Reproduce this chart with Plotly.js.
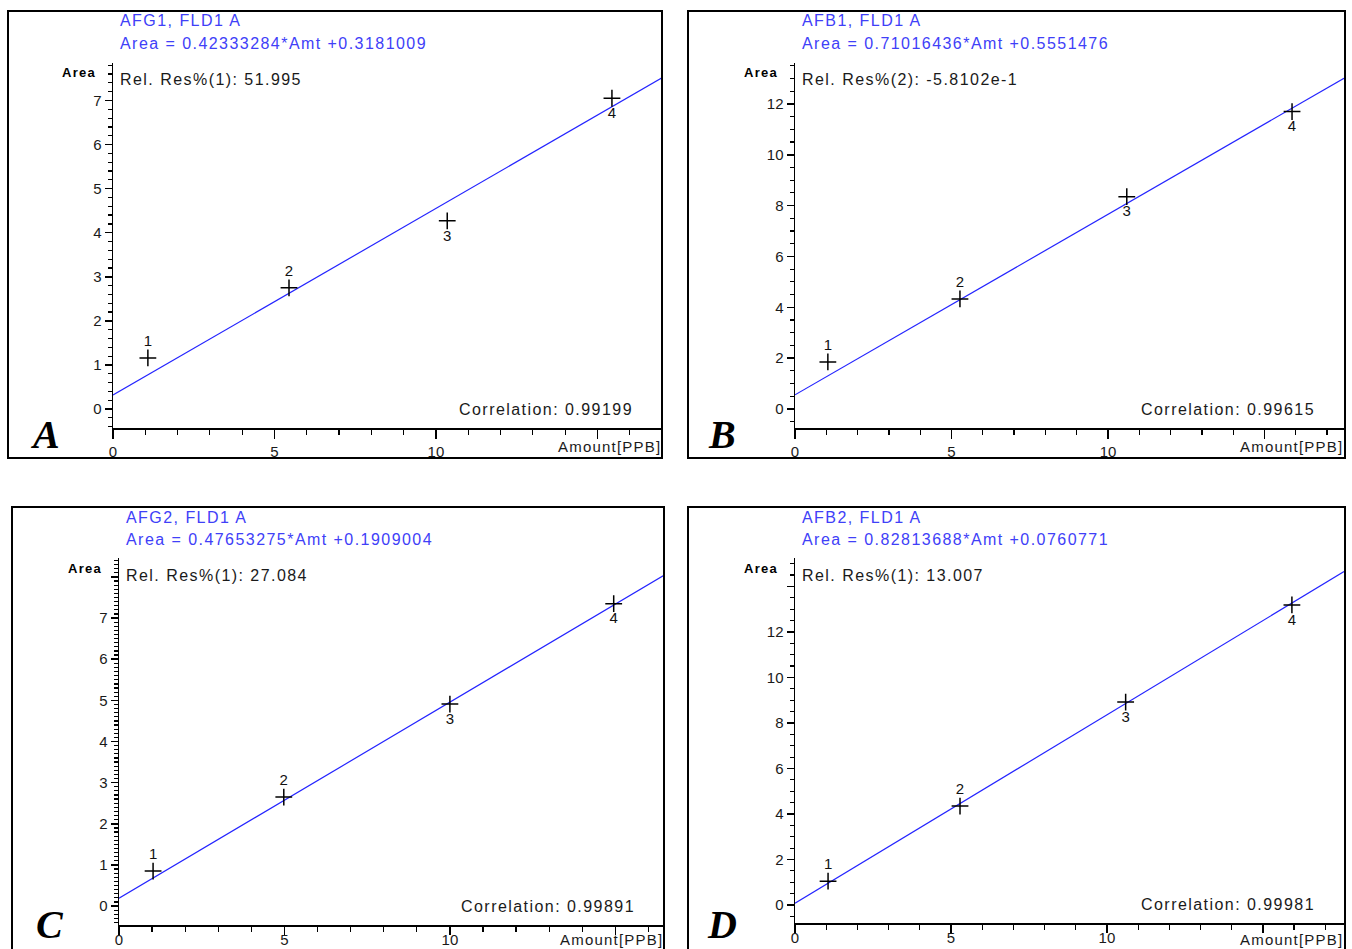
<!DOCTYPE html>
<html>
<head>
<meta charset="utf-8">
<script src="https://cdn.plot.ly/plotly-3.0.1.min.js"></script>
<style>html,body{margin:0;padding:0;background:#fff;}#chart{width:1352px;height:949px;}</style>
</head>
<body>
<div id="chart"></div>
<script>
// ---------------- data ----------------
const panelLetters = ['A', 'B', 'C', 'D'];
const compounds = ['AFG1, FLD1 A', 'AFB1, FLD1 A', 'AFG2, FLD1 A', 'AFB2, FLD1 A'];
const equations = [
  'Area = 0.42333284*Amt +0.3181009',
  'Area = 0.71016436*Amt +0.5551476',
  'Area = 0.47653275*Amt +0.1909004',
  'Area = 0.82813688*Amt +0.0760771'
];
const relRes = ['Rel. Res%(1): 51.995', 'Rel. Res%(2): -5.8102e-1', 'Rel. Res%(1): 27.084', 'Rel. Res%(1): 13.007'];
const correlations = ['Correlation: 0.99199', 'Correlation: 0.99615', 'Correlation: 0.99891', 'Correlation: 0.99981'];
const slopes = [0.42333284, 0.71016436, 0.47653275, 0.82813688];
const intercepts = [0.3181009, 0.5551476, 0.1909004, 0.0760771];
const amtA = [1.08, 5.45, 10.35, 15.45];
const areaA = [1.16, 2.75, 4.27, 7.05];
const amtB = [1.05, 5.27, 10.6, 15.88];
const areaB = [1.85, 4.33, 8.35, 11.7];
const amtC = [1.03, 4.98, 10.0, 14.95];
const areaC = [0.85, 2.65, 4.91, 7.35];
const amtD = [1.06, 5.29, 10.6, 15.93];
const areaD = [1.05, 4.35, 8.92, 13.19];
const pointLabels = ['1', '2', '3', '4'];
const xTickVals = [0, 5, 10, 15];
const xTickText = ['0', '5', '10', ''];
const yTickValsA = [0, 1, 2, 3, 4, 5, 6, 7];
const yTickValsB = [0, 2, 4, 6, 8, 10, 12];
const yTickValsC = [0, 1, 2, 3, 4, 5, 6, 7, 8];
const yTickTextC = ['0', '1', '2', '3', '4', '5', '6', '7', ''];
const yTickValsD = [0, 2, 4, 6, 8, 10, 12, 14];
const yTickTextD = ['0', '2', '4', '6', '8', '10', '12', ''];
const xTitle = 'Amount[PPB]';
const yTitle = 'Area';

// ---------------- layout geometry (pixels) ----------------
const W = 1352, H = 949;
const geo = [
  {frame: [8, 11, 662, 458],    plot: [113, 63, 662, 428],  xmax: 17.0,  ymin: -0.43, ymax: 7.85,  ymdt: 0.2, tv: yTickValsA, tt: yTickValsA.map(String), letter: [45, 435], xlab: 18},
  {frame: [688, 11, 1345, 458], plot: [795, 63, 1344, 428], xmax: 17.54, ymin: -0.75, ymax: 13.61, ymdt: 0.5, tv: yTickValsB, tt: yTickValsB.map(String), letter: [722, 435], xlab: 18},
  {frame: [12, 507, 664, 953],  plot: [119, 558, 664, 925], xmax: 16.47, ymin: -0.46, ymax: 8.46,  ymdt: 0.1, tv: yTickValsC, tt: yTickTextC, letter: [50, 924], xlab: 14},
  {frame: [688, 507, 1345, 953], plot: [795, 558, 1344, 923], xmax: 17.6, ymin: -0.79, ymax: 15.25, ymdt: 0.5, tv: yTickValsD, tt: yTickTextD, letter: [722, 924], xlab: 16}
];
const amts = [amtA, amtB, amtC, amtD];
const areas = [areaA, areaB, areaC, areaD];

const px = x => x / W;
const py = y => 1 - y / H;
const sp = (t, ls) => '<span style="letter-spacing:' + ls + 'px">' + t + '</span>';

const BLUE_LINE = '#2424ff';
const BLUE_TEXT = '#4040f8';
const FONT = 'Liberation Sans, Arial, sans-serif';
const TXT = '#1a1a1a';

const traces = [];
const layout = {
  width: W, height: H,
  margin: {l: 0, r: 0, t: 0, b: 0},
  paper_bgcolor: '#ffffff',
  plot_bgcolor: 'rgba(0,0,0,0)',
  showlegend: false,
  shapes: [],
  annotations: []
};

geo.forEach((g, i) => {
  const n = i === 0 ? '' : String(i + 1);
  const xa = 'x' + n, ya = 'y' + n;
  const [pl, pt, pr, pb] = g.plot;
  const bottomRow = i >= 2;

  // regression line from the equation
  const lx = [0, g.xmax];
  traces.push({
    type: 'scatter', mode: 'lines', x: lx, y: lx.map(v => slopes[i] * v + intercepts[i]),
    xaxis: xa, yaxis: ya, line: {color: BLUE_LINE, width: 1.2}, hoverinfo: 'skip'
  });
  // calibration points
  traces.push({
    type: 'scatter', mode: 'markers+text', x: amts[i], y: areas[i],
    xaxis: xa, yaxis: ya,
    marker: {symbol: 'cross-thin', size: 12, color: '#000', line: {color: '#000', width: 1.5}},
    text: pointLabels,
    textposition: ['top center', 'top center', 'bottom center', 'bottom center'],
    textfont: {family: FONT, size: 15, color: '#111'},
    cliponaxis: false
  });

  const xKey = 'xaxis' + n, yKey = 'yaxis' + n;
  layout[xKey] = {
    domain: [px(pl), px(pr)], anchor: ya, range: [0, g.xmax],
    showgrid: false, zeroline: false, showline: true, linecolor: '#000', linewidth: 1.5,
    tickmode: 'array', tickvals: xTickVals, ticktext: xTickText,
    ticks: 'outside', ticklen: bottomRow ? 8 : 9, tickwidth: 1.5, tickcolor: '#000',
    tickfont: {family: FONT, size: 15, color: TXT},
    ticklabelstandoff: bottomRow ? -8 : 0,
    minor: {tickmode: 'linear', tick0: 0, dtick: 1, ticks: 'outside', ticklen: 5, tickwidth: 1.2, tickcolor: '#000', showgrid: false},
    fixedrange: true
  };
  layout[yKey] = {
    domain: [py(pb), py(pt)], anchor: xa, range: [g.ymin, g.ymax],
    showgrid: false, zeroline: false, showline: true, linecolor: '#000', linewidth: 1.5,
    tickmode: 'array', tickvals: g.tv, ticktext: g.tt,
    ticks: 'outside', ticklen: 7, tickwidth: 1.5, tickcolor: '#000',
    tickfont: {family: FONT, size: 15, color: TXT},
    minor: {tickmode: 'linear', tick0: 0, dtick: g.ymdt, ticks: 'outside', ticklen: 4, tickwidth: 1.2, tickcolor: '#000', showgrid: false},
    fixedrange: true
  };

  // panel frame
  const [fl, ft, fr, fb] = g.frame;
  layout.shapes.push({type: 'rect', xref: 'paper', yref: 'paper', x0: px(fl), x1: px(fr), y0: py(fb), y1: py(ft),
    line: {color: '#000', width: 2}, fillcolor: 'rgba(0,0,0,0)'});

  const ann = (text, x, y, xanchor, font) => layout.annotations.push({
    xref: 'paper', yref: 'paper', x: px(x), y: py(y), xanchor: xanchor, yanchor: 'middle',
    text: text, showarrow: false, font: font, align: xanchor === 'right' ? 'right' : 'left'
  });

  ann(sp(compounds[i], 1.45), pl + 5, ft + 10, 'left', {family: FONT, size: 16, color: BLUE_TEXT});
  ann(sp(equations[i], 1.45), pl + 5, ft + 32, 'left', {family: FONT, size: 16, color: BLUE_TEXT});
  ann(sp(relRes[i], 1.45), pl + 5, pt + 17, 'left', {family: FONT, size: 16, color: TXT});
  ann(sp(correlations[i], 1.45), pr - 27, pb - 19, 'right', {family: FONT, size: 16, color: TXT});
  ann(sp('<b>' + yTitle + '</b>', 1.3), pl - 15, pt + 10, 'right', {family: FONT, size: 13, color: '#000'});
  ann(sp(xTitle, 1.2), pr + 1, pb + g.xlab, 'right', {family: FONT, size: 15, color: TXT});
  ann('<b><i>' + panelLetters[i] + '</i></b>', g.letter[0], g.letter[1], 'center', {family: 'Liberation Serif, Times New Roman, serif', size: 40, color: '#000'});
});

Plotly.newPlot('chart', traces, layout, {staticPlot: true, displayModeBar: false});
</script>
</body>
</html>
